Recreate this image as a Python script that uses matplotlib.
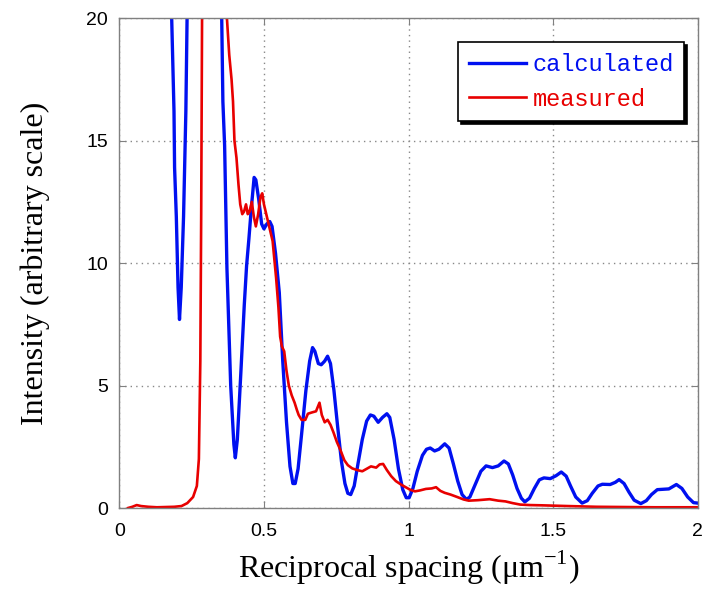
import matplotlib.pyplot as plt

# calculated profile (reciprocal spacing in 1/um, intensity)
calc_x = [0.170, 0.181, 0.189, 0.191, 0.197, 0.203, 0.208, 0.214, 0.222, 0.230,
          0.234, 0.245, 0.290, 0.345, 0.354, 0.358, 0.364, 0.372, 0.385, 0.396,
          0.401, 0.408, 0.420, 0.432, 0.440, 0.448, 0.456, 0.466, 0.472, 0.482,
          0.492, 0.500, 0.510, 0.520, 0.528, 0.540, 0.553, 0.565, 0.578, 0.590,
          0.600, 0.608, 0.618, 0.630, 0.645, 0.658, 0.668, 0.676, 0.688, 0.698,
          0.710, 0.720, 0.730, 0.742, 0.755, 0.768, 0.780, 0.790, 0.800, 0.812,
          0.825, 0.840, 0.855, 0.868, 0.880, 0.895, 0.910, 0.925, 0.935, 0.950,
          0.965, 0.980, 0.992, 1.002, 1.015, 1.030, 1.048, 1.062, 1.075, 1.090,
          1.105, 1.125, 1.140, 1.155, 1.170, 1.185, 1.200, 1.212, 1.230, 1.250,
          1.268, 1.290, 1.310, 1.330, 1.345, 1.360, 1.375, 1.390, 1.402, 1.418,
          1.435, 1.452, 1.468, 1.490, 1.510, 1.528, 1.545, 1.560, 1.578, 1.600,
          1.618, 1.635, 1.655, 1.670, 1.697, 1.715, 1.728, 1.745, 1.762, 1.780,
          1.803, 1.822, 1.840, 1.860, 1.900, 1.926, 1.945, 1.965, 1.985, 2.000]
calc_y = [30.0, 20.0, 16.2, 13.9, 11.9, 9.0, 7.7, 9.0, 11.9, 16.2,
          20.0, 28.0, 40.0, 24.0, 20.0, 16.6, 14.8, 9.8, 5.0, 2.6,
          2.05, 2.8, 5.5, 8.3, 9.9, 11.0, 12.2, 13.5, 13.4, 12.6,
          11.6, 11.4, 11.6, 11.7, 11.5, 10.4, 8.8, 6.0, 3.5, 1.7,
          1.0, 1.0, 1.6, 3.0, 4.8, 6.0, 6.55, 6.4, 5.9, 5.85,
          6.0, 6.2, 5.9, 4.8, 3.3, 1.9, 1.0, 0.6, 0.55, 0.9,
          1.8, 2.8, 3.55, 3.8, 3.75, 3.5, 3.7, 3.85, 3.7, 2.8,
          1.6, 0.75, 0.42, 0.42, 0.8, 1.5, 2.15, 2.4, 2.45, 2.33,
          2.4, 2.62, 2.45, 1.8, 1.1, 0.55, 0.35, 0.45, 0.95, 1.5,
          1.72, 1.65, 1.72, 1.92, 1.8, 1.35, 0.8, 0.4, 0.25, 0.4,
          0.8, 1.15, 1.23, 1.2, 1.32, 1.47, 1.3, 0.9, 0.45, 0.2,
          0.3, 0.6, 0.9, 0.97, 0.96, 1.05, 1.16, 1.0, 0.65, 0.32,
          0.18, 0.3, 0.55, 0.75, 0.78, 0.96, 0.8, 0.45, 0.22, 0.2]

# measured profile
meas_x = [0.030, 0.045, 0.060, 0.075, 0.100, 0.130, 0.160, 0.190, 0.215, 0.235,
          0.255, 0.268, 0.275, 0.280, 0.283, 0.286, 0.290, 0.365, 0.372, 0.380,
          0.388, 0.393, 0.398, 0.405, 0.412, 0.418, 0.425, 0.431, 0.438, 0.444,
          0.450, 0.458, 0.465, 0.472, 0.480, 0.488, 0.494, 0.500, 0.508, 0.518,
          0.530, 0.542, 0.550, 0.556, 0.562, 0.570, 0.578, 0.586, 0.596, 0.606,
          0.614, 0.620, 0.630, 0.643, 0.652, 0.665, 0.680, 0.692, 0.700, 0.710,
          0.720, 0.730, 0.740, 0.752, 0.765, 0.778, 0.790, 0.805, 0.822, 0.840,
          0.855, 0.870, 0.888, 0.900, 0.912, 0.925, 0.940, 0.956, 0.975, 0.990,
          1.005, 1.022, 1.040, 1.060, 1.080, 1.095, 1.110, 1.125, 1.145, 1.168,
          1.190, 1.208, 1.240, 1.280, 1.310, 1.335, 1.360, 1.386, 1.420, 1.460,
          1.490, 1.550, 1.650, 1.750, 1.850, 2.000]
meas_y = [0.0, 0.05, 0.12, 0.08, 0.05, 0.03, 0.04, 0.05, 0.08, 0.2,
          0.45, 0.9, 2.0, 6.0, 12.0, 20.0, 28.0, 24.0, 20.0, 18.5,
          17.5, 16.6, 15.0, 14.3, 13.2, 12.4, 12.0, 12.1, 12.4, 12.0,
          12.1, 12.5, 11.9, 11.5, 12.0, 12.7, 12.85, 12.4, 12.0, 11.5,
          10.9, 9.4, 8.2, 7.0, 6.6, 6.4, 5.6, 5.0, 4.6, 4.3,
          4.0, 3.8, 3.6, 3.6, 3.85, 3.9, 3.95, 4.3, 3.8, 3.5,
          3.6, 3.4, 3.1, 2.7, 2.35, 1.95, 1.75, 1.62, 1.55, 1.5,
          1.6, 1.7, 1.65, 1.78, 1.8, 1.55, 1.3, 1.1, 0.95, 0.85,
          0.75, 0.68, 0.72, 0.78, 0.8, 0.85, 0.7, 0.62, 0.55, 0.45,
          0.35, 0.3, 0.32, 0.36, 0.3, 0.27, 0.2, 0.14, 0.12, 0.11,
          0.1, 0.08, 0.05, 0.04, 0.03, 0.03]

x_ticks = [0, 0.5, 1, 1.5, 2]
x_tick_labels = ["0", "0.5", "1", "1.5", "2"]
y_ticks = [0, 5, 10, 15, 20]

fig = plt.figure(figsize=(7.02, 5.89), dpi=100)
ax = fig.add_axes([0.170, 0.1375, 0.824, 0.8315])

ax.plot(calc_x, calc_y, color="#0010f0", lw=2.4, label="calculated")
ax.plot(meas_x, meas_y, color="#e80000", lw=1.9, label="measured")

ax.set_xlim(0, 2)
ax.set_ylim(0, 20)
ax.set_xticks(x_ticks)
ax.set_xticklabels(x_tick_labels)
ax.set_yticks(y_ticks)

for s in ax.spines.values():
    s.set_color("#808080")
    s.set_linewidth(1.0)
ax.tick_params(direction="in", top=True, right=True, length=5, color="#808080",
               labelsize=14, pad=8)
ax.tick_params(axis="x", pad=11)
for lab in ax.get_xticklabels() + ax.get_yticklabels():
    lab.set_family("Liberation Sans")
ax.grid(True, color="#888888", linestyle=(0, (1, 3)), lw=1.0)

ax.set_xlabel("Reciprocal spacing (μm$^{\\mathregular{-1}}$)", family="Liberation Serif",
              fontsize=23, labelpad=6)
ax.set_ylabel("Intensity (arbitrary scale)", family="Liberation Serif",
              fontsize=23, labelpad=26)

leg = ax.legend(loc="upper right", bbox_to_anchor=(0.977, 0.951), borderaxespad=0,
                prop={"family": "Liberation Mono", "size": 17},
                labelcolor="linecolor", frameon=True, fancybox=False,
                shadow={"color": "black", "alpha": 1.0}, handlelength=2.4,
                handletextpad=0.3, borderpad=0.45, labelspacing=0.5)
leg.get_frame().set_edgecolor("black")
leg.get_frame().set_linewidth(1.2)

fig.savefig("out.png", dpi=100)
